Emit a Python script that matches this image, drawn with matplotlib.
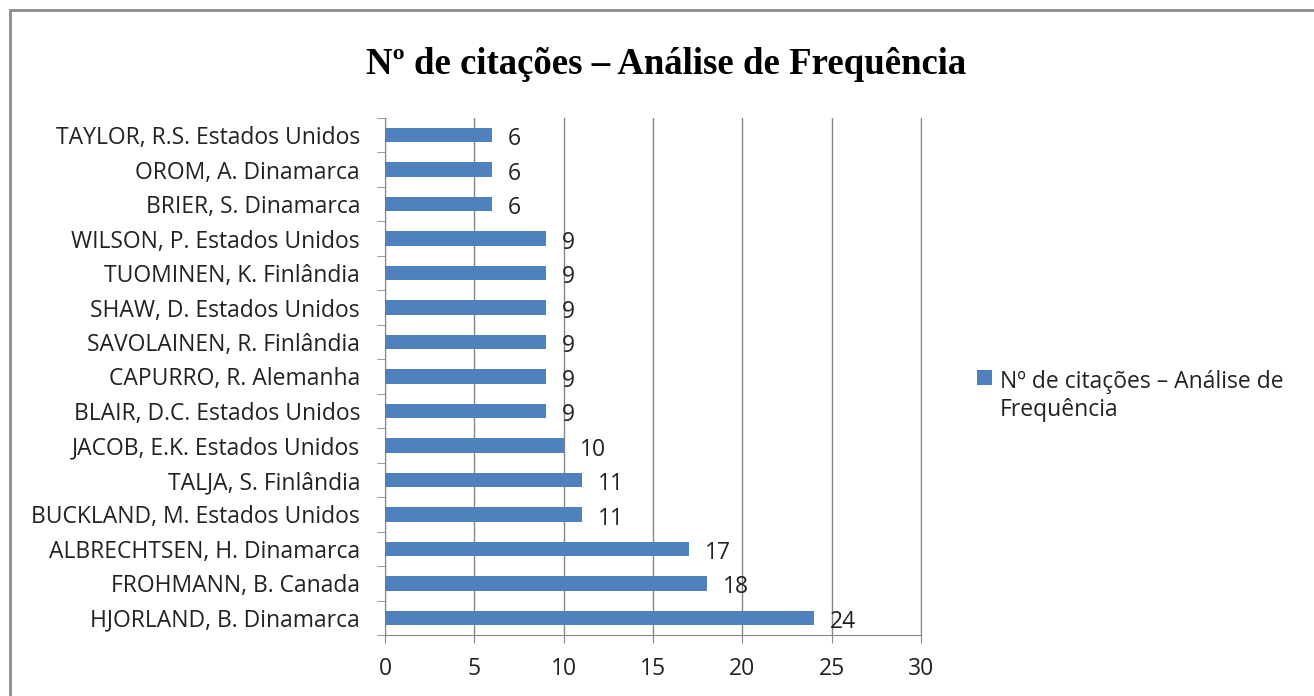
import matplotlib
matplotlib.use("Agg")
import matplotlib.pyplot as plt
from matplotlib.patches import Rectangle

# dados (de baixo para cima)
autores = [
    "HJORLAND, B. Dinamarca",
    "FROHMANN, B. Canada",
    "ALBRECHTSEN, H. Dinamarca",
    "BUCKLAND, M. Estados Unidos",
    "TALJA, S. Finlândia",
    "JACOB, E.K. Estados Unidos",
    "BLAIR, D.C. Estados Unidos",
    "CAPURRO, R. Alemanha",
    "SAVOLAINEN, R. Finlândia",
    "SHAW, D. Estados Unidos",
    "TUOMINEN, K. Finlândia",
    "WILSON, P. Estados Unidos",
    "BRIER, S. Dinamarca",
    "OROM, A. Dinamarca",
    "TAYLOR, R.S. Estados Unidos",
]
citacoes = [24, 18, 17, 11, 11, 10, 9, 9, 9, 9, 9, 9, 6, 6, 6]
x_ticks = [0, 5, 10, 15, 20, 25, 30]

titulo = "Nº de citações – Análise de Frequência"
serie = "Nº de citações – Análise de\nFrequência"

cor_barra = "#4f81bd"
cor_eixo = "#868686"
cor_texto = "#222222"
fonte = ["Open Sans", "DejaVu Sans"]
tam = 16.5

fig = plt.figure(figsize=(13.14, 6.96), dpi=100)
# moldura do gráfico (cortada à direita e em baixo)
fig.patches.append(Rectangle((10 / 1314, -0.05), 1.2, 1 - 10 / 696 + 0.05,
                             transform=fig.transFigure, fill=False,
                             edgecolor="#8c8c8c", linewidth=2))

ax = fig.add_axes([385 / 1314, 1 - 635 / 696, (921 - 385) / 1314, (635 - 118) / 696])

pos = list(range(len(autores)))
barras = ax.barh(pos, citacoes, height=0.42, color=cor_barra, zorder=3,
                 label=serie)

ax.set_xlim(0, 30)
ax.set_ylim(-0.5, len(autores) - 0.5)
ax.set_xticks(x_ticks)
ax.set_xticklabels([str(t) for t in x_ticks], fontsize=tam, family=fonte, color=cor_texto)
ax.set_yticks(pos)
ax.set_yticklabels(autores, fontsize=tam, family=fonte, color=cor_texto)
ax.tick_params(axis="y", length=0, pad=18)
ax.tick_params(axis="x", length=6, color=cor_eixo, pad=10)

# marcas entre categorias no eixo y
ax.set_yticks([p - 0.5 for p in pos] + [len(autores) - 0.5], minor=True)
ax.tick_params(axis="y", which="minor", length=6, color=cor_eixo)

ax.grid(axis="x", color=cor_eixo, linewidth=1, zorder=0)
ax.spines["top"].set_visible(False)
for lado in ["left", "bottom", "right"]:
    ax.spines[lado].set_color(cor_eixo)

for b, v in zip(barras, citacoes):
    ax.annotate(str(v), (v, b.get_y() + b.get_height() / 2), xytext=(11.5, -3),
                textcoords="offset points", va="center", ha="left",
                fontsize=tam, family=fonte, color=cor_texto, zorder=4)

fig.text(666 / 1314, 1 - 65 / 696, titulo, ha="center", va="center",
         fontsize=26.5, fontweight="bold", family=["Liberation Serif", "DejaVu Serif"])

leg = fig.legend(handles=[barras], labels=[serie], loc="upper left",
                 bbox_to_anchor=(968 / 1314, 1 - 361 / 696), frameon=False,
                 prop={"family": fonte, "size": tam}, handlelength=0.65,
                 handleheight=0.65, handletextpad=0.35, borderaxespad=0,
                 labelspacing=0.2)
for t in leg.get_texts():
    t.set_color(cor_texto)
# marcador alinhado com a primeira linha do texto
for coluna in leg._legend_handle_box.get_children():
    for item in coluna.get_children():
        item.align = "top"

fig.savefig("out.png", dpi=100)
